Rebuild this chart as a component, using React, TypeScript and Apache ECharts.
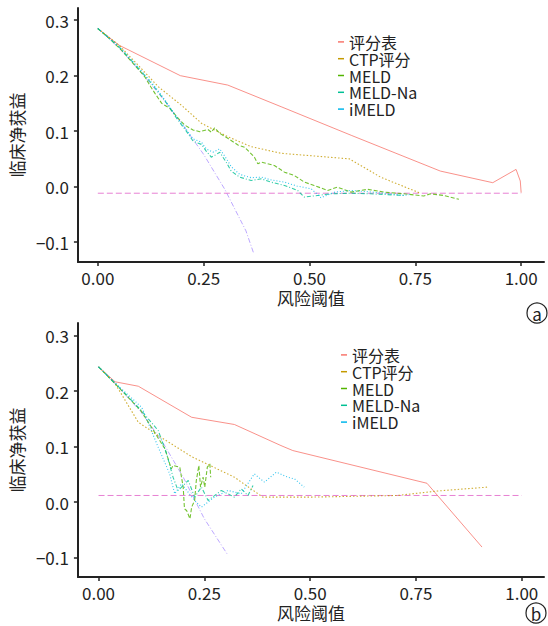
import React, { useEffect, useRef } from "react";
import * as echarts from "echarts";

// ---------- data ----------
const seriesNames = ["评分表", "CTP评分", "MELD", "MELD-Na", "iMELD"];
const xTicks = [0, 0.25, 0.5, 0.75, 1.0];
const yTicks = [-0.1, 0, 0.1, 0.2, 0.3];

// chart (a)
const aScore = [[0, 0.285], [0.05, 0.255], [0.195, 0.2], [0.307, 0.183], [0.433, 0.144], [0.6, 0.092], [0.809, 0.028], [0.933, 0.007], [0.988, 0.031], [0.998, 0.01], [1.0, -0.011]];
const aCTP = [[0, 0.285], [0.05, 0.255], [0.1, 0.215], [0.143, 0.18], [0.2, 0.145], [0.245, 0.114], [0.307, 0.09], [0.362, 0.072], [0.433, 0.06], [0.594, 0.05], [0.668, 0.017], [0.762, -0.012]];
const aMELD = [[0, 0.285], [0.03, 0.265], [0.056, 0.246], [0.08, 0.225], [0.111, 0.198], [0.125, 0.18], [0.135, 0.168], [0.151, 0.15], [0.17, 0.141], [0.19, 0.123], [0.205, 0.111], [0.225, 0.102], [0.241, 0.099], [0.26, 0.103], [0.268, 0.098], [0.276, 0.106], [0.288, 0.096], [0.307, 0.087], [0.331, 0.075], [0.347, 0.071], [0.37, 0.053], [0.378, 0.041], [0.386, 0.044], [0.417, 0.038], [0.441, 0.026], [0.464, 0.02], [0.488, 0.008], [0.511, 0.002], [0.543, -0.007], [0.566, -0.001], [0.598, -0.01], [0.637, -0.005], [0.676, -0.01], [0.723, -0.013], [0.77, -0.017], [0.786, -0.013], [0.817, -0.016], [0.853, -0.023]];
const aMELDNa = [[0, 0.285], [0.05, 0.252], [0.1, 0.21], [0.13, 0.183], [0.15, 0.163], [0.166, 0.147], [0.182, 0.128], [0.194, 0.115], [0.209, 0.1], [0.225, 0.082], [0.245, 0.076], [0.256, 0.064], [0.268, 0.053], [0.28, 0.058], [0.288, 0.062], [0.304, 0.043], [0.315, 0.028], [0.335, 0.017], [0.362, 0.011], [0.386, 0.014], [0.409, 0.008], [0.441, 0.002], [0.472, -0.007], [0.488, -0.019], [0.519, -0.016], [0.551, -0.013], [0.598, -0.012], [0.645, -0.013], [0.723, -0.016]];
const aIMELD = [[0, 0.285], [0.05, 0.253], [0.1, 0.211], [0.13, 0.185], [0.15, 0.165], [0.166, 0.148], [0.182, 0.13], [0.194, 0.118], [0.209, 0.103], [0.225, 0.086], [0.245, 0.08], [0.256, 0.068], [0.272, 0.062], [0.288, 0.068], [0.304, 0.05], [0.315, 0.036], [0.335, 0.022], [0.362, 0.016], [0.386, 0.017], [0.41, 0.012], [0.441, 0.008], [0.47, 0.001], [0.504, -0.004], [0.527, -0.02], [0.56, -0.01], [0.598, -0.007], [0.65, -0.01], [0.723, -0.016], [0.74, -0.014]];
const aAll = [[0, 0.285], [0.05, 0.25], [0.1, 0.208], [0.15, 0.162], [0.2, 0.112], [0.25, 0.058], [0.3, -0.005], [0.35, -0.08], [0.368, -0.12]];
const aNone = [[0, -0.012], [1.0, -0.012]];

// chart (b)
const bScore = [[0, 0.244], [0.039, 0.217], [0.094, 0.209], [0.22, 0.153], [0.321, 0.14], [0.431, 0.102], [0.459, 0.093], [0.776, 0.034], [0.906, -0.081]];
const bCTP = [[0, 0.244], [0.039, 0.214], [0.094, 0.144], [0.141, 0.12], [0.22, 0.082], [0.321, 0.045], [0.388, 0.009], [0.5, 0.009], [0.706, 0.012], [0.8, 0.02], [0.918, 0.027]];
const bMELD = [[0, 0.244], [0.05, 0.205], [0.1, 0.165], [0.125, 0.135], [0.157, 0.096], [0.172, 0.06], [0.176, 0.066], [0.192, 0.063], [0.2, 0.027], [0.203, -0.012], [0.208, -0.015], [0.216, -0.03], [0.22, -0.009], [0.227, 0.003], [0.231, 0.039], [0.237, 0.066], [0.241, 0.027], [0.247, 0.045], [0.251, 0.027], [0.257, 0.063], [0.263, 0.069], [0.265, 0.045]];
const bMELDNa = [[0, 0.244], [0.05, 0.206], [0.1, 0.166], [0.141, 0.129], [0.161, 0.087], [0.176, 0.045], [0.188, 0.021], [0.2, 0.03], [0.212, 0.039], [0.227, 0.009], [0.243, 0.027], [0.259, 0.003], [0.29, 0.021], [0.321, 0.009], [0.337, 0.024], [0.353, 0.012], [0.365, 0.03]];
const bIMELD = [[0, 0.244], [0.05, 0.207], [0.102, 0.171], [0.141, 0.099], [0.168, 0.051], [0.18, 0.015], [0.196, 0.033], [0.227, 0.003], [0.243, -0.009], [0.274, 0.009], [0.306, 0.021], [0.337, 0.015], [0.368, 0.051], [0.392, 0.036], [0.42, 0.054], [0.447, 0.045], [0.463, 0.042], [0.486, 0.027]];
const bAll = [[0, 0.244], [0.05, 0.205], [0.1, 0.163], [0.15, 0.11], [0.2, 0.045], [0.25, -0.03], [0.306, -0.096]];
const bNone = [[0, 0.012], [1.0, 0.012]];

// ---------- styles ----------
const FONT = "Noto Sans CJK SC";
const colors = ["#F8766D", "#C49A00", "#53B400", "#00C094", "#00B6EB"];
const dashes: any[] = ["solid", [1.5, 2], [4, 2], [4, 2, 1, 2], [1, 2]];
const allColor = "#A58AFF";
const noneColor = "#E36BCB";
const ink = "#222";

function makeSeries(datasets: number[][][], all: number[][], none: number[][], idx: number) {
  const out: any[] = datasets.map((d, i) => ({
    name: seriesNames[i],
    type: "line",
    xAxisIndex: idx,
    yAxisIndex: idx,
    data: d,
    symbol: "none",
    color: colors[i],
    lineStyle: { color: colors[i], width: i === 0 ? 1 : 1.1, type: dashes[i], opacity: 0.8 },
    z: 3,
  }));
  out.push({
    name: "all" + idx, type: "line", xAxisIndex: idx, yAxisIndex: idx, data: all, symbol: "none",
    lineStyle: { color: allColor, width: 1, type: [5, 2, 1, 2], opacity: 0.75 }, z: 2,
  });
  out.push({
    name: "none" + idx, type: "line", xAxisIndex: idx, yAxisIndex: idx, data: none, symbol: "none",
    lineStyle: { color: noneColor, width: 1, type: [6, 3], opacity: 0.85 }, z: 2,
  });
  return out;
}

function xAxis(idx: number, min: number, max: number) {
  return {
    type: "value", gridIndex: idx, min, max,
    splitLine: { show: false },
    axisLine: { show: true, onZero: false, lineStyle: { color: ink, width: 2 } },
    axisTick: { show: true, length: 4, lineStyle: { color: ink, width: 1.5 }, customValues: xTicks },
    axisLabel: { fontFamily: FONT, fontSize: 17, color: ink, margin: 7, customValues: xTicks, formatter: (v: number) => v.toFixed(2) },
    name: "风险阈值", nameLocation: "middle", nameGap: 27,
    nameTextStyle: { fontFamily: FONT, fontSize: 17, color: ink, verticalAlign: "top" },
  };
}
function yAxis(idx: number, min: number, max: number) {
  return {
    type: "value", gridIndex: idx, min, max,
    splitLine: { show: false },
    axisLine: { show: true, onZero: false, lineStyle: { color: ink, width: 2 } },
    axisTick: { show: true, length: 4, lineStyle: { color: ink, width: 1.5 }, customValues: yTicks },
    axisLabel: {
      fontFamily: FONT, fontSize: 17, color: ink, margin: 9, customValues: yTicks,
      formatter: (v: number) => (Math.abs(v) < 1e-9 ? "0.0" : v < 0 ? "\u2212" + Math.abs(v).toFixed(1) : v.toFixed(1)),
    },
    name: "临床净获益", nameLocation: "middle", nameGap: 50, nameRotate: 90,
    nameTextStyle: { fontFamily: FONT, fontSize: 17, color: ink },
  };
}

function legend(left: number, top: number) {
  return {
    orient: "vertical", left, top, icon: "rect", itemWidth: 6, itemHeight: 1.5, itemGap: 0,
    data: seriesNames, selectedMode: false,
    textStyle: { fontFamily: FONT, fontSize: 16, color: ink, lineHeight: 16.8, padding: 0 },
    padding: 0,
  };
}

function circled(cx: number, cy: number, ch: string) {
  return {
    type: "group", children: [
      { type: "circle", shape: { cx, cy, r: 10 }, style: { fill: "none", stroke: ink, lineWidth: 1.2 } },
      { type: "text", x: cx, y: cy, style: { text: ch, fontFamily: FONT, fontSize: 17, fill: ink, align: "center", verticalAlign: "middle" } },
    ],
  };
}

export default function App() {
  const ref = useRef<HTMLDivElement>(null);
  useEffect(() => {
    if (!ref.current) return;
    const chart = echarts.init(ref.current, null, { renderer: "svg" });
    chart.setOption({
      animation: false,
      backgroundColor: "#fff",
      grid: [
        { left: 76, top: 8, width: 468, height: 254 },
        { left: 76, top: 323, width: 468, height: 254 },
      ],
      xAxis: [xAxis(0, -0.047, 1.054), xAxis(1, -0.0487, 1.0525)],
      yAxis: [yAxis(0, -0.136, 0.322), yAxis(1, -0.135, 0.323)],
      legend: [legend(338, 33.5), legend(341, 346.5)],
      series: [
        ...makeSeries([aScore, aCTP, aMELD, aMELDNa, aIMELD], aAll, aNone, 0),
        ...makeSeries([bScore, bCTP, bMELD, bMELDNa, bIMELD], bAll, bNone, 1),
      ],
      graphic: [circled(537, 313, "a"), circled(536, 613, "b")],
    });
    return () => chart.dispose();
  }, []);
  return <div ref={ref} style={{ position: "absolute", left: 0, top: 0, width: 548, height: 626 }} />;
}
